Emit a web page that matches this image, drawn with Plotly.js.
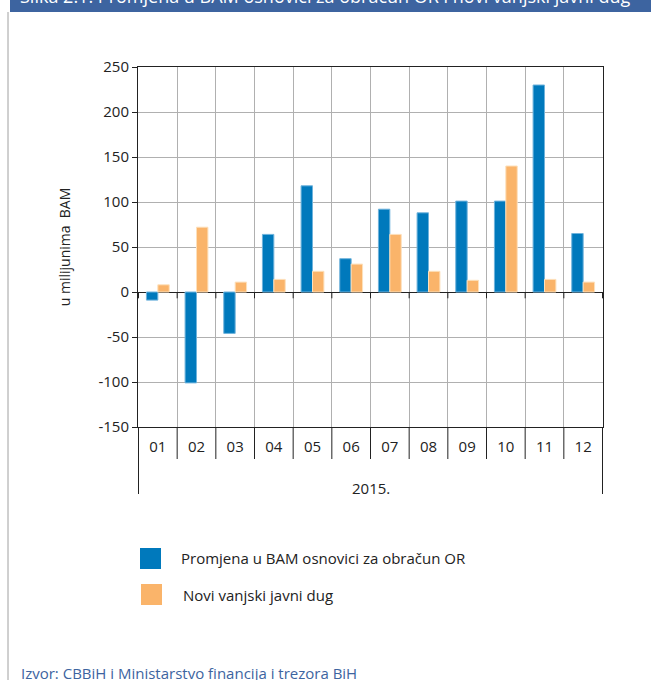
<!DOCTYPE html>
<html>
<head>
<meta charset="utf-8">
<script src="https://cdn.plot.ly/plotly-3.0.1.min.js"></script>
<style>
html,body{margin:0;padding:0;background:#fff;}
#chart{width:651px;height:680px;}
</style>
</head>
<body>
<div id="chart"></div>
<script>
// ---- data ----
const months = ["01","02","03","04","05","06","07","08","09","10","11","12"];
const yearLabel = "2015.";
const seriesNames = ["Promjena u BAM osnovici za obračun OR", "Novi vanjski javni dug"];
const promjenaBAM = [-9, -101, -46, 64, 118, 37, 92, 88, 101, 101, 230, 65];
const noviDug = [8, 72, 11, 14, 23, 31, 64, 23, 13, 140, 14, 11];
const yTicks = [-150, -100, -50, 0, 50, 100, 150, 200, 250];
const yTitle = "u milijunima  BAM";
const headerText = "Slika 2.1: Promjena u BAM osnovici za obračun OR i novi vanjski javni dug";
const sourceText = "Izvor: CBBiH i Ministarstvo financija i trezora BiH";

// ---- geometry helpers (pixel -> paper) ----
const L = 138, R = 48, T = 67, B = 253, W = 651, H = 680;
const pw = W - L - R, ph = H - T - B;
const px = p => (p - L) / pw;
const py = p => (H - B - p) / ph;

const blue = "#0079bc", orange = "#fab46a";
const font = "'Open Sans', 'Noto Sans', sans-serif";

const traces = [
  {type: "bar", x: months, y: promjenaBAM, name: seriesNames[0],
   marker: {color: blue, line: {color: "#6fb3dc", width: 1}}, showlegend: false},
  {type: "bar", x: months, y: noviDug, name: seriesNames[1],
   marker: {color: orange, line: {color: "#fde0bb", width: 1}}, showlegend: false}
];

const shapes = [];
// header bar
shapes.push({type: "rect", xref: "paper", yref: "paper", x0: px(10), x1: px(W + 2), y0: py(12), y1: py(-2),
  fillcolor: "#3d64a0", line: {width: 0}, layer: "below"});
// left frame line
shapes.push({type: "line", xref: "paper", yref: "paper", x0: px(8), x1: px(8), y0: py(12), y1: py(H + 2),
  line: {color: "#a0a0a0", width: 1}});
// category dividers below the plot
for (let i = 0; i <= months.length; i++) {
  const outer = (i === 0 || i === months.length);
  shapes.push({type: "line", xref: "x", yref: "paper", x0: i - 0.5, x1: i - 0.5,
    y0: 0, y1: py(outer ? 494 : 459), line: {color: "#222", width: 1}});
  // small ticks below the zero line
  shapes.push({type: "line", xref: "x", yref: "y", x0: i - 0.5, x1: i - 0.5,
    y0: 0, y1: -7, line: {color: "#222", width: 1}});
}
// legend swatches
shapes.push({type: "rect", xref: "paper", yref: "paper", x0: px(140), x1: px(161), y0: py(569), y1: py(548),
  fillcolor: blue, line: {width: 0}});
shapes.push({type: "rect", xref: "paper", yref: "paper", x0: px(141), x1: px(162), y0: py(605), y1: py(584),
  fillcolor: orange, line: {width: 0}});

const annotations = [
  {text: headerText, xref: "paper", yref: "paper", x: px(18), y: py(-4), xanchor: "left", yanchor: "middle",
   showarrow: false, font: {family: font, size: 18, color: "#ffffff"}},
  {text: yearLabel, xref: "paper", yref: "paper", x: 0.5, y: py(488), xanchor: "center", yanchor: "middle",
   showarrow: false, font: {family: font, size: 15, color: "#222"}},
  {text: seriesNames[0], xref: "paper", yref: "paper", x: px(179), y: py(558), xanchor: "left", yanchor: "middle",
   showarrow: false, font: {family: font, size: 15, color: "#222"}},
  {text: seriesNames[1], xref: "paper", yref: "paper", x: px(181), y: py(595), xanchor: "left", yanchor: "middle",
   showarrow: false, font: {family: font, size: 15, color: "#222"}},
  {text: sourceText, xref: "paper", yref: "paper", x: px(19), y: py(673), xanchor: "left", yanchor: "middle",
   showarrow: false, font: {family: font, size: 15, color: "#3d64a0"}}
];

const layout = {
  width: W, height: H,
  margin: {l: L, r: R, t: T, b: B, pad: 0},
  paper_bgcolor: "#fff", plot_bgcolor: "#fff",
  font: {family: font, size: 15, color: "#222"},
  barmode: "group", bargap: 0.41, bargroupgap: 0,
  showlegend: false,
  xaxis: {type: "category", tickson: "boundaries", ticks: "", showgrid: true,
    gridcolor: "#b0b0b0", gridwidth: 1, showline: true, mirror: true, linecolor: "#222", linewidth: 1,
    tickfont: {family: font, size: 15, color: "#222"}, ticklabelstandoff: 6, zeroline: false},
  yaxis: {range: [-150, 250], tickvals: yTicks, ticktext: yTicks.map(String), ticks: "outside", ticklen: 5,
    tickcolor: "#222", showgrid: true, gridcolor: "#b0b0b0", gridwidth: 1,
    showline: true, mirror: true, linecolor: "#222", linewidth: 1,
    zeroline: true, zerolinecolor: "#222", zerolinewidth: 1,
    tickfont: {family: font, size: 15, color: "#222"},
    title: {text: yTitle, font: {family: font, size: 14, color: "#222"}, standoff: 24}},
  shapes: shapes,
  annotations: annotations
};

Plotly.newPlot("chart", traces, layout, {displayModeBar: false, staticPlot: true});
</script>
</body>
</html>
